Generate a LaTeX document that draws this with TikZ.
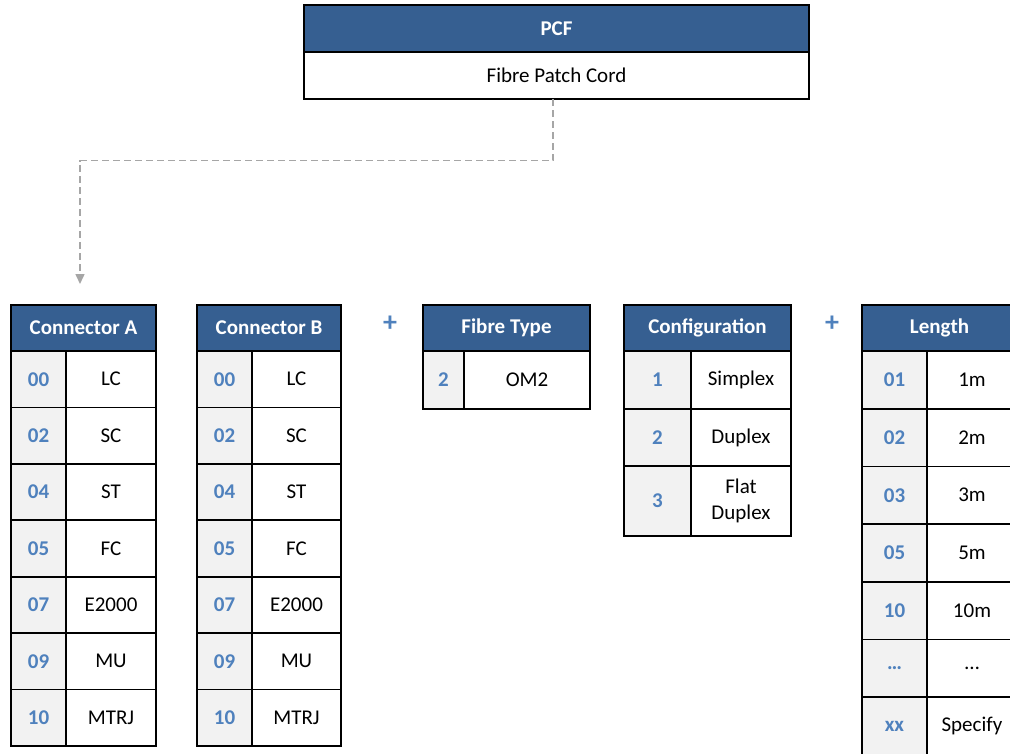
\documentclass[tikz,border=0pt]{standalone}
\usepackage{fontspec}
\setmainfont{Carlito}
\usetikzlibrary{arrows.meta, positioning}
\definecolor{hdblue}{HTML}{365F91}
\definecolor{codeblue}{HTML}{4F81BD}
\definecolor{codegray}{HTML}{F2F2F2}
\definecolor{linkgray}{HTML}{A6A6A6}

\begin{document}
\begin{tikzpicture}[x=1pt, y=-1pt,
    every node/.style={font=\fontsize{21}{26}\selectfont},
    cell/.style={
      rectangle,
      draw=black,
      line width=1.8pt,
      anchor=north west,
      inner sep=2pt,
      outer sep=0pt,
      align=center
    },
    head/.style={cell, fill=hdblue, text=white, font=\fontsize{21}{26}\selectfont\bfseries, minimum height=46},
    code/.style={cell, fill=codegray, text=codeblue, font=\fontsize{21}{26}\selectfont\bfseries},
    val/.style={cell, fill=white},
    plus/.style={text=codeblue, font=\fontsize{28}{30}\selectfont\bfseries},
    link/.style={draw=linkgray, line width=1.5pt, dash pattern=on 7pt off 4pt, -{Triangle[length=10pt, width=9pt]}}
  ]
    \useasboundingbox (0,0) rectangle (1010,753);
    \clip (0,0) rectangle (1010,753);

    % product code
    \node[head, minimum width=505, minimum height=47] (pcf) at (304,5) {PCF};
    \node[val, minimum width=505, minimum height=47] (pcfv) at (304,52) {Fibre Patch Cord};

    % connector A
    \node[head, minimum width=145] (conA) at (11,305) {Connector A};
    \foreach \c/\v [count=\i from 0] in {00/LC, 02/SC, 04/ST, 05/FC, 07/E2000, 09/MU, 10/MTRJ} {
      \node[code, minimum width=55, minimum height=56.4] (conA-c\i) at (11,{351+\i*56.4}) {\c};
      \node[val, minimum width=90, minimum height=56.4] (conA-v\i) at (66,{351+\i*56.4}) {\v};
    }

    % connector B
    \node[head, minimum width=144] (conB) at (197,305) {Connector B};
    \foreach \c/\v [count=\i from 0] in {00/LC, 02/SC, 04/ST, 05/FC, 07/E2000, 09/MU, 10/MTRJ} {
      \node[code, minimum width=55, minimum height=56.4] (conB-c\i) at (197,{351+\i*56.4}) {\c};
      \node[val, minimum width=89, minimum height=56.4] (conB-v\i) at (252,{351+\i*56.4}) {\v};
    }

    \node[plus] (plus1) at (390,324) {+};

    % fibre type
    \node[head, minimum width=167] (fib) at (423,305) {Fibre Type};
    \node[code, minimum width=41, minimum height=58] (fib-c0) at (423,351) {2};
    \node[val, minimum width=126, minimum height=58] (fib-v0) at (464,351) {OM2};

    % configuration
    \node[head, minimum width=167] (cfg) at (624,305) {Configuration};
    \foreach \c/\v/\y/\h [count=\i from 0] in {1/Simplex/351/58, 2/Duplex/409/57, 3/{Flat\\Duplex}/466/70} {
      \node[code, minimum width=67, minimum height=\h] (cfg-c\i) at (624,\y) {\c};
      \node[val, minimum width=100, minimum height=\h] (cfg-v\i) at (691,\y) {\v};
    }

    \node[plus] (plus2) at (832,324) {+};

    % length
    \node[head, minimum width=155] (len) at (862,305) {Length};
    \foreach \c/\v [count=\i from 0] in {01/1m, 02/2m, 03/3m, 05/5m, 10/10m, {…}/{…}, xx/Specify} {
      \node[code, minimum width=65, minimum height=57.7] (len-c\i) at (862,{351+\i*57.7}) {\c};
      \node[val, minimum width=90, minimum height=57.7] (len-v\i) at (927,{351+\i*57.7}) {\v};
    }

    % link to first field
    \coordinate (drop) at (80,284);
    \draw[link] ([xshift=-3.5pt]pcfv.south) -- ++(0,61.5) -| (drop);
  \end{tikzpicture}
\end{document}
